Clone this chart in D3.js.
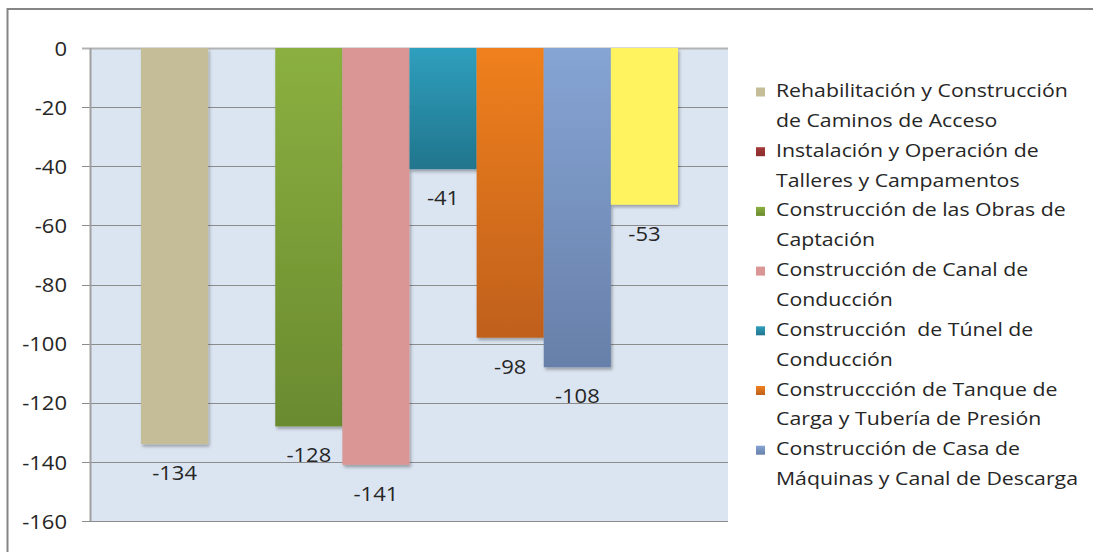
<!DOCTYPE html>
<html>
<head>
<meta charset="utf-8">
<script src="https://cdn.jsdelivr.net/npm/d3@7"></script>
<style>
  html, body { margin: 0; padding: 0; background: #fff; }
  svg { display: block; font-family: "Open Sans", Lato, sans-serif; }
</style>
</head>
<body>
<svg id="chart" width="1093" height="552"></svg>
<script>
// Impact values per construction activity (one bar per activity)
const seriesKeys = ["s1", "s2", "s3", "s4", "s5", "s6", "s7", "s8"];
const seriesValues = [-134, null, -128, -141, -41, -98, -108, -53];
const seriesTop = ["#C4BD97", "#A33A38", "#8BB040", "#D99694", "#2F9FBE", "#F0801F", "#86A4D4", "#FFF45F"];
const seriesBottom = ["#C4BD97", "#8A2E2C", "#6A8A2F", "#D99694", "#21758C", "#BF601C", "#6780A9", "#FFF45F"];
const legendLines = [
  ["Rehabilitación y Construcción", "de Caminos de Acceso"],
  ["Instalación y Operación de", "Talleres y Campamentos"],
  ["Construcción de las Obras de", "Captación"],
  ["Construcción de Canal de", "Conducción"],
  ["Construcción  de Túnel de", "Conducción"],
  ["Construccción de Tanque de", "Carga y Tubería de Presión"],
  ["Construcción de Casa de", "Máquinas y Canal de Descarga"]
];
const yTicks = [0, -20, -40, -60, -80, -100, -120, -140, -160];

const svg = d3.select("#chart");
const plot = { left: 91, right: 728, top: 48, bottom: 521 };
const textColor = "#262626";
const numStretch = 1.1;     // horizontal stretch of numeric labels
const legendStretch = 1.15; // horizontal stretch of legend text

// chart frame
svg.append("rect")
  .attr("x", 7.5).attr("y", 9).attr("width", 1200).attr("height", 700)
  .attr("fill", "#fff").attr("stroke", "#858585").attr("stroke-width", 2);

const defs = svg.append("defs");
const shadow = defs.append("filter").attr("id", "barShadow")
  .attr("x", "-10%").attr("y", "-10%").attr("width", "130%").attr("height", "130%");
shadow.append("feDropShadow").attr("dx", 1.5).attr("dy", 2.5)
  .attr("stdDeviation", 1.8).attr("flood-color", "#000").attr("flood-opacity", 0.3);

seriesKeys.forEach((k, i) => {
  const g = defs.append("linearGradient").attr("id", "grad-" + k)
    .attr("x1", 0).attr("y1", 0).attr("x2", 0).attr("y2", 1);
  g.append("stop").attr("offset", "0%").attr("stop-color", seriesTop[i]);
  g.append("stop").attr("offset", "100%").attr("stop-color", seriesBottom[i]);
});

const y = d3.scaleLinear().domain([-160, 0]).range([plot.bottom, plot.top]);
const x = d3.scaleBand().domain(seriesKeys)
  .range([plot.left, plot.right]).paddingInner(0).paddingOuter(0.745);

// plot background
svg.append("rect")
  .attr("x", plot.left).attr("y", plot.top)
  .attr("width", plot.right - plot.left).attr("height", plot.bottom - plot.top)
  .attr("fill", "#DBE5F1");

// gridlines
svg.append("g")
  .selectAll("line").data(yTicks).join("line")
  .attr("x1", plot.left - 9).attr("x2", plot.right)
  .attr("y1", d => Math.round(y(d)) + 0.5).attr("y2", d => Math.round(y(d)) + 0.5)
  .attr("stroke", d => d === 0 ? "#B3B3B3" : "#8C8C8C")
  .attr("stroke-width", d => d === 0 ? 2 : 1.2);

// y axis line
svg.append("line")
  .attr("x1", plot.left - 0.5).attr("x2", plot.left - 0.5)
  .attr("y1", plot.top).attr("y2", plot.bottom)
  .attr("stroke", "#A0A0A0").attr("stroke-width", 2);

// y axis labels (plain hyphen for negatives)
const yAxis = d3.axisLeft(y).tickValues(yTicks).tickSize(0).tickPadding(0)
  .tickFormat(d => String(d));
const ag = svg.append("g").attr("transform", `translate(67,0)`).call(yAxis);
ag.select(".domain").remove();
ag.selectAll("text")
  .attr("font-family", "'Open Sans', sans-serif").attr("font-size", 20)
  .attr("fill", textColor).attr("x", 0).attr("dy", "0.36em")
  .attr("transform", `scale(${numStretch},1)`);

// bars
const data = seriesKeys.map((k, i) => ({ key: k, value: seriesValues[i] }))
  .filter(d => d.value !== null);

svg.append("g").selectAll("rect").data(data).join("rect")
  .attr("x", d => x(d.key))
  .attr("y", y(0))
  .attr("width", x.bandwidth())
  .attr("height", d => y(d.value) - y(0))
  .attr("fill", d => `url(#grad-${d.key})`)
  .attr("filter", "url(#barShadow)");

// value labels
svg.append("g").selectAll("text").data(data).join("text")
  .attr("transform", d =>
    `translate(${x(d.key) + x.bandwidth() / 2},${y(d.value) + 36}) scale(${numStretch},1)`)
  .attr("text-anchor", "middle")
  .attr("font-size", 20).attr("fill", textColor)
  .text(d => String(d.value));

// legend
const lg = svg.append("g");
const lineStep = 29.85;
legendLines.forEach((lines, i) => {
  const base = 97 + i * 2 * lineStep;
  lg.append("rect")
    .attr("x", 756).attr("y", base - 9.5).attr("width", 9).attr("height", 9)
    .attr("fill", `url(#grad-${seriesKeys[i]})`);
  lines.forEach((t, j) => {
    lg.append("text")
      .attr("transform", `translate(776,${base + j * lineStep}) scale(${legendStretch},1)`)
      .attr("font-size", 18.5).attr("fill", textColor)
      .style("white-space", "pre")
      .text(t);
  });
});
</script>
</body>
</html>
